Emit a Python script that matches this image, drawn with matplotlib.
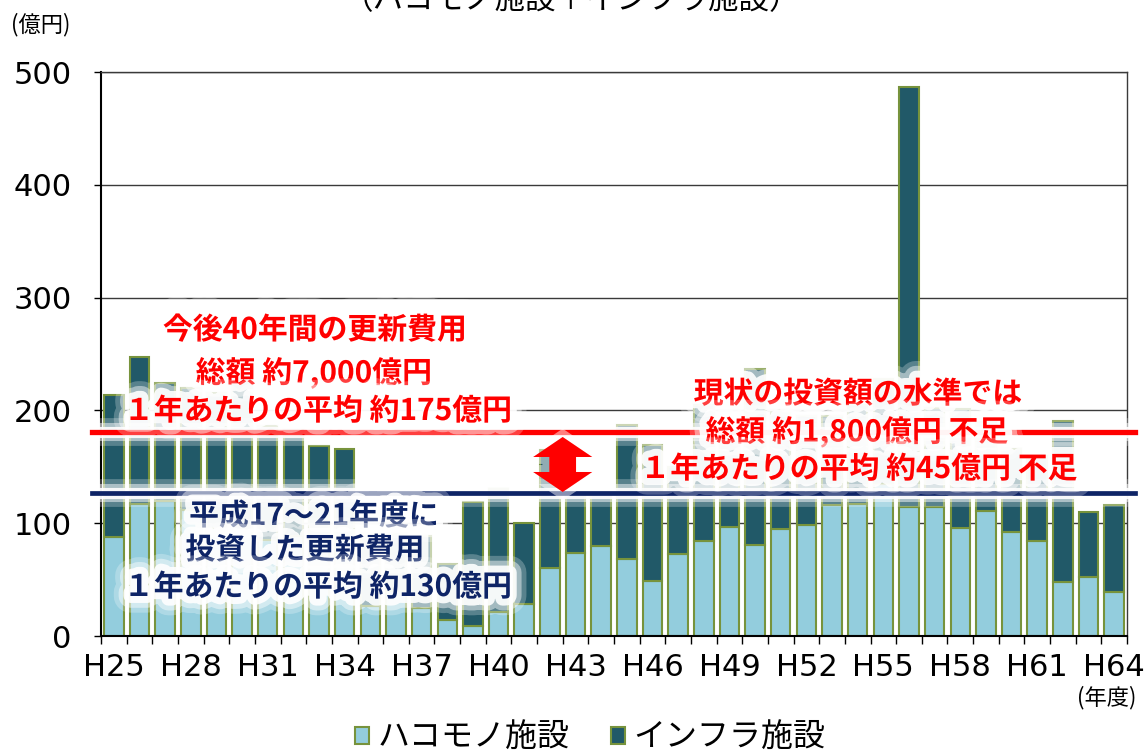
import matplotlib
matplotlib.use('Agg')
import matplotlib.pyplot as plt
import matplotlib.patheffects as pe
from matplotlib.patches import Polygon
import numpy as np

plt.rcParams['font.family'] = ['Noto Sans CJK JP', 'DejaVu Sans']

# ---- data ----
years = ['H25', 'H26', 'H27', 'H28', 'H29', 'H30', 'H31', 'H32', 'H33', 'H34',
         'H35', 'H36', 'H37', 'H38', 'H39', 'H40', 'H41', 'H42', 'H43', 'H44',
         'H45', 'H46', 'H47', 'H48', 'H49', 'H50', 'H51', 'H52', 'H53', 'H54',
         'H55', 'H56', 'H57', 'H58', 'H59', 'H60', 'H61', 'H62', 'H63', 'H64']
hako = [88, 117, 120, 112, 96, 94, 85, 89, 85, 85,
        27, 40, 25, 14, 9, 21, 28, 60, 74, 80,
        68, 49, 73, 84, 97, 81, 95, 98, 116, 117,
        135, 114, 114, 96, 111, 92, 84, 48, 52, 39]
infra = [126, 130, 104, 108, 119, 139, 101, 94, 83, 81,
         63, 50, 64, 50, 110, 109, 72, 105, 51, 45,
         119, 120, 77, 121, 78, 156, 105, 97, 79, 88,
         93, 373, 88, 105, 79, 74, 76, 143, 58, 77]
series_names = ['ハコモノ施設', 'インフラ施設']
future_avg_line = 181      # 今後40年間の平均 (drawn level)
past_avg_line = 126.5      # 平成17～21年度の平均 (drawn level)

# ---- style ----
C_LIGHT = '#93CDDD'
C_DARK = '#215968'
C_EDGE = '#77933C'
C_RED = '#FF0000'
C_NAVY = '#0E2466'

W, H = 1146, 754
fig = plt.figure(figsize=(W / 100, H / 100), dpi=100)
ax = fig.add_axes([101 / W, 1 - 636 / H, 1026 / W, 564 / H])

x = np.arange(len(years))
ax.bar(x, hako, width=0.76, color=C_LIGHT, edgecolor=C_EDGE, lw=1.5,
       label=series_names[0], zorder=2)
ax.bar(x, infra, bottom=hako, width=0.76, color=C_DARK, edgecolor=C_EDGE,
       lw=1.5, label=series_names[1], zorder=2)

ax.set_xlim(-0.5, len(years) - 0.5)
ax.set_ylim(0, 500)
ax.set_yticks(range(0, 501, 100))
ax.yaxis.grid(True, color='#3a3a3a', lw=1.0)
ax.set_axisbelow(True)

ax.set_xticks(x[::3])
ax.set_xticklabels(years[::3], family='DejaVu Sans')
ax.set_xticks(np.arange(-0.5, len(years), 1), minor=True)
ax.tick_params(axis='x', which='major', length=0, pad=12, labelsize=22)
ax.tick_params(axis='x', which='minor', length=6, width=1, color='black')
ax.tick_params(axis='y', length=5, pad=16, labelsize=22, width=1)
for lab in ax.get_yticklabels():
    lab.set_family('DejaVu Sans')

for s in ['left', 'bottom']:
    ax.spines[s].set_color('black')
    ax.spines[s].set_linewidth(1.5)
for s in ['top', 'right']:
    ax.spines[s].set_color('#3a3a3a')
    ax.spines[s].set_linewidth(1.0)

glow = [pe.Stroke(linewidth=24, foreground='white', alpha=0.25),
        pe.Stroke(linewidth=17, foreground='white', alpha=0.45),
        pe.Stroke(linewidth=10, foreground='white', alpha=0.9),
        pe.Normal()]
line_glow = [pe.Stroke(linewidth=20, foreground='white', alpha=0.25),
             pe.Stroke(linewidth=13, foreground='white', alpha=0.5),
             pe.Stroke(linewidth=8, foreground='white', alpha=0.9),
             pe.Normal()]

xmin_f = (92 - 101) / 1026
xmax_f = (1135 - 101) / 1026
ax.axhline(future_avg_line, xmin=xmin_f, xmax=xmax_f, color=C_RED, lw=3.8,
           clip_on=False, zorder=4, path_effects=line_glow)
ax.axhline(past_avg_line, xmin=xmin_f, xmax=xmax_f, color=C_NAVY, lw=3.4,
           clip_on=False, zorder=4, path_effects=line_glow)

# double-headed arrow between the two levels
ax_x = 17.5
hw_head, hw_shaft = 1.15, 0.52
top_tip, top_base = 176.4, 158.7
bot_base, bot_tip = 145.4, 127.7
arrow = Polygon([(ax_x, top_tip), (ax_x + hw_head, top_base), (ax_x + hw_shaft, top_base),
                 (ax_x + hw_shaft, bot_base), (ax_x + hw_head, bot_base), (ax_x, bot_tip),
                 (ax_x - hw_head, bot_base), (ax_x - hw_shaft, bot_base),
                 (ax_x - hw_shaft, top_base), (ax_x - hw_head, top_base)],
                closed=True, facecolor=C_RED, edgecolor='none', zorder=5)
arrow.set_path_effects([pe.Stroke(linewidth=10, foreground='white', alpha=0.5), pe.Normal()])
ax.add_patch(arrow)


def fx(px):
    return px / W


def fy(py):
    return 1 - py / H


def ann(px, py, s, color, size=21.5, weight='bold'):
    fig.text(fx(px), fy(py), s, color=color, fontsize=size, weight=weight,
             ha='center', va='center', path_effects=glow, zorder=10)


ann(315, 330, '今後40年間の更新費用', C_RED)
ann(314, 373, '総額 約7,000億円', C_RED)
ann(318, 411, '１年あたりの平均 約175億円', C_RED)

ann(314, 516, '平成17～21年度に', C_NAVY)
ann(305, 550, '投資した更新費用', C_NAVY)
ann(318, 587, '１年あたりの平均 約130億円', C_NAVY)

ann(858, 394, '現状の投資額の水準では', C_RED)
ann(857, 432, '総額 約1,800億円 不足', C_RED)
ann(859, 469, '１年あたりの平均 約45億円 不足', C_RED)

fig.text(fx(572), 1 - 1 / H, '（ハコモノ施設＋インフラ施設）', fontsize=22,
         ha='center', va='center', color='black')
fig.text(fx(41), fy(25), '(億円)', fontsize=16, ha='center', va='center')
fig.text(fx(1107), fy(698), '(年度)', fontsize=16, ha='center', va='center')

fig.legend(loc='lower center', bbox_to_anchor=(0.515, -0.038), ncol=2, frameon=False,
           fontsize=23, handlelength=0.45, handleheight=0.45, handletextpad=0.25,
           columnspacing=1.3)

fig.savefig('out.png', dpi=100)
